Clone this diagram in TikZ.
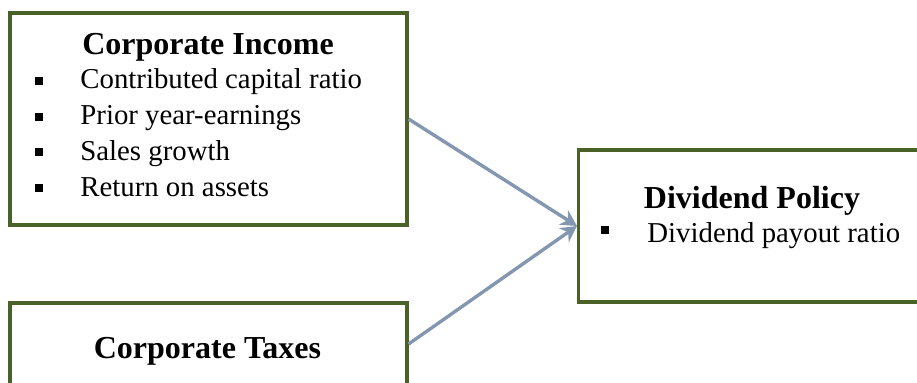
\documentclass[tikz,border=0pt]{standalone}
\usepackage{fontspec}
\setmainfont{Liberation Serif}
\usepackage{tikz}
\usetikzlibrary{positioning,arrows.meta}
\definecolor{boxgreen}{HTML}{4A6128}
\definecolor{linkblue}{HTML}{8497B0}

\begin{document}
\begin{tikzpicture}[
  x=0.5pt, y=-0.5pt,
  box/.style={draw=boxgreen, line width=1.6pt, rectangle, inner sep=0pt},
  head/.style={font=\fontsize{16}{19}\selectfont\bfseries, anchor=base},
  item/.style={font=\fontsize{14.4}{17}\selectfont, anchor=base west, inner sep=0pt},
  dot/.style={fill=black, minimum size=4.2pt, inner sep=0pt},
  link/.style={draw=linkblue, line width=1.7pt, -{Stealth[length=8pt,width=8.5pt]}}
]
  \useasboundingbox (0,0) rectangle (917,382);
  \clip (0,0) rectangle (917,382);

  % --- box: corporate income
  \node[box, minimum width=397*0.5pt, minimum height=212*0.5pt] (income) at (208.5,119) {};
  \node[head] (incomehead) at (208,54) {Corporate Income};
  \node[dot] (d1) at (39,81)  {};
  \node[dot] (d2) at (39,117) {};
  \node[dot] (d3) at (39,152) {};
  \node[dot] (d4) at (39,188) {};
  \node[item] (i1) at (80,88)  {Contributed capital ratio};
  \node[item] (i2) at (80,124) {Prior year-earnings};
  \node[item] (i3) at (80,160) {Sales growth};
  \node[item] (i4) at (80,196) {Return on assets};

  % --- box: corporate taxes
  \node[box, minimum width=397*0.5pt, minimum height=82*0.5pt] (taxes) at (208.5,344) {};
  \node[head] (taxeshead) at (207.5,358) {Corporate Taxes};

  % --- box: dividend policy
  \node[box, anchor=west, minimum width=360*0.5pt, minimum height=152*0.5pt] (policy) at (577,226) {};
  \node[head] (policyhead) at (752,208) {Dividend Policy};
  \node[dot] (d5) at (605,230) {};
  \node[item] (i5) at (647,242) {Dividend payout ratio};

  % links
  \draw[link] (income.east) -- (policy.west);
  \draw[link] (taxes.east) -- (policy.west);
\end{tikzpicture}
\end{document}
